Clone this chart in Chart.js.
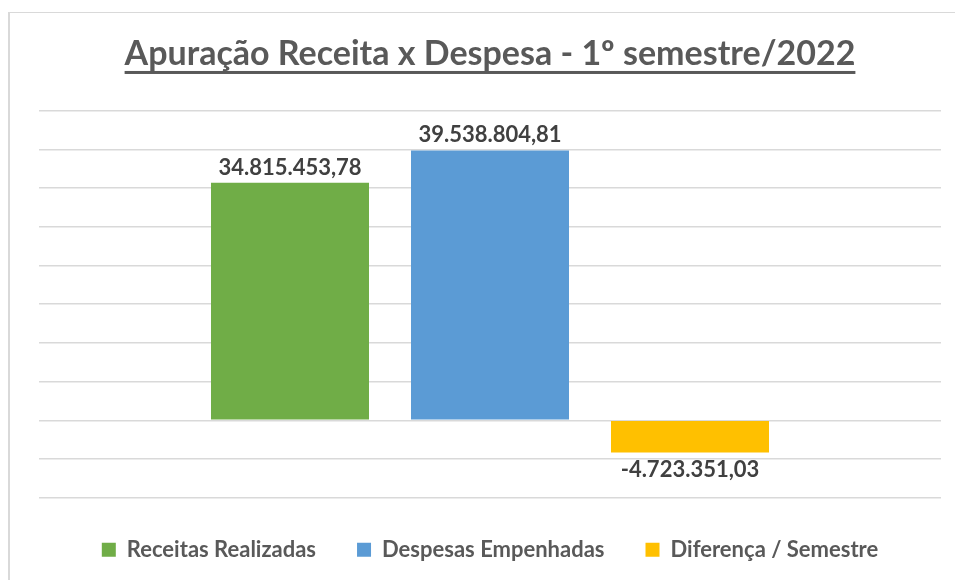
<!DOCTYPE html>
<html>
<head>
<meta charset="utf-8">
<script src="https://cdn.jsdelivr.net/npm/chart.js@4.4.1/dist/chart.umd.min.js"></script>
<style>
  html, body { margin: 0; padding: 0; background: #ffffff; }
  #wrap { width: 955px; height: 580px; }
</style>
</head>
<body>
<div id="wrap"><canvas id="c" width="955" height="580"></canvas></div>
<script>
// ---- data ----
const categories = ['1º semestre/2022'];
const seriesNames = ['Receitas Realizadas', 'Despesas Empenhadas', 'Diferença / Semestre'];
const receitasRealizadas = [34815453.78];
const despesasEmpenhadas = [39538804.81];
const diferencaSemestre = [-4723351.03];
const chartTitle = 'Apuração Receita x Despesa - 1º semestre/2022';
// value axis (ticks hidden in the original; only gridlines shown)
const yMin = -11340000;
const yMax = 45360000;
const yStep = 5670000;

// ---- styles ----
const seriesColors = ['#70AD47', '#5B9BD5', '#FFC000'];
const FONT = 'Lato, "Open Sans", "DejaVu Sans", sans-serif';
const TITLE_SIZE = 34;

function fmtBR(v) {
  const neg = v < 0;
  const parts = Math.abs(v).toFixed(2).split('.');
  const intPart = parts[0].replace(/\B(?=(\d{3})+(?!\d))/g, '.');
  return (neg ? '-' : '') + intPart + ',' + parts[1];
}

const frame = {
  id: 'frame',
  beforeDraw(chart) {
    const ctx = chart.ctx;
    ctx.save();
    ctx.fillStyle = '#ffffff';
    ctx.fillRect(0, 0, chart.width, chart.height);
    ctx.fillStyle = '#d9d9d9';
    ctx.fillRect(8, 12, 2, chart.height - 12);
    ctx.fillRect(8, 12, chart.width - 8, 1);
    ctx.restore();
  }
};

const valueLabels = {
  id: 'valueLabels',
  afterDatasetsDraw(chart) {
    const ctx = chart.ctx;
    ctx.save();
    ctx.font = 'bold 22px ' + FONT;
    ctx.fillStyle = '#404040';
    ctx.textAlign = 'center';
    ctx.textBaseline = 'alphabetic';
    chart.data.datasets.forEach((ds, i) => {
      const meta = chart.getDatasetMeta(i);
      meta.data.forEach((bar, j) => {
        const v = ds.data[j];
        const y = v >= 0 ? bar.y - 8 : bar.y + 24;
        ctx.fillText(fmtBR(v), bar.x, y);
      });
    });
    ctx.restore();
  }
};

const titleUnderline = {
  id: 'titleUnderline',
  afterDraw(chart) {
    const tb = chart.titleBlock;
    if (!tb) return;
    const opts = chart.options.plugins.title;
    const ctx = chart.ctx;
    ctx.save();
    const size = opts.font.size;
    ctx.font = 'bold ' + size + 'px ' + FONT;
    ctx.textBaseline = 'middle';
    const w = ctx.measureText(chartTitle).width;
    const m = ctx.measureText('A');
    const lineH = size * 1.2;
    const cy = tb.top + opts.padding.top + lineH / 2;
    const baseY = cy + m.actualBoundingBoxDescent;
    const cx = (tb.left + tb.right) / 2;
    ctx.fillStyle = '#595959';
    ctx.fillRect(cx - w / 2, baseY + 6, w, 3);
    ctx.restore();
  }
};

const ctx = document.getElementById('c').getContext('2d');
new Chart(ctx, {
  type: 'bar',
  data: {
    labels: categories,
    datasets: [
      { label: seriesNames[0], data: receitasRealizadas, backgroundColor: seriesColors[0] },
      { label: seriesNames[1], data: despesasEmpenhadas, backgroundColor: seriesColors[1] },
      { label: seriesNames[2], data: diferencaSemestre, backgroundColor: seriesColors[2] }
    ]
  },
  options: {
    responsive: false,
    animation: false,
    devicePixelRatio: 1,
    layout: { padding: { top: 12, left: 39, right: 14, bottom: 9.3 } },
    datasets: {
      bar: { categoryPercentage: 0.6652, barPercentage: 0.79, borderWidth: 0 }
    },
    scales: {
      x: {
        display: true,
        grid: { display: false, drawTicks: false },
        border: { display: false },
        ticks: { display: false },
        afterFit(scale) { scale.height = 0; }
      },
      y: {
        min: yMin,
        max: yMax,
        grid: { color: '#d9d9d9', lineWidth: 1.6, drawTicks: false },
        border: { display: false },
        ticks: { display: false, stepSize: yStep }
      }
    },
    plugins: {
      title: {
        display: true,
        text: chartTitle,
        color: '#595959',
        font: { family: FONT, size: TITLE_SIZE, weight: 'bold', lineHeight: 1.2 },
        padding: { top: 21.6, bottom: 36.3 }
      },
      legend: {
        display: true,
        position: 'bottom',
        labels: {
          color: '#595959',
          font: { family: FONT, size: 22, weight: 'bold' },
          boxWidth: 14,
          boxHeight: 14,
          padding: 41
        }
      },
      tooltip: { enabled: false }
    }
  },
  plugins: [frame, valueLabels, titleUnderline]
});
</script>
</body>
</html>
